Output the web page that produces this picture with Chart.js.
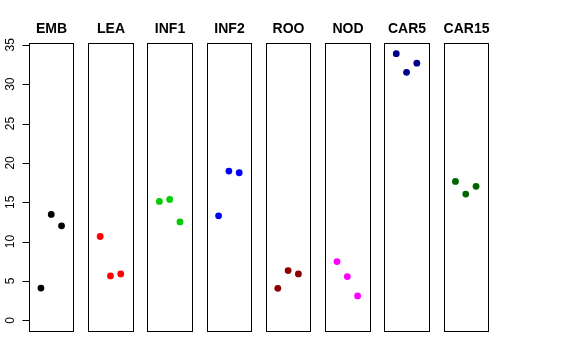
<!DOCTYPE html>
<html>
<head>
<meta charset="utf-8">
<script src="https://cdn.jsdelivr.net/npm/chart.js@4/dist/chart.umd.min.js"></script>
<style>
  html, body { margin: 0; padding: 0; background: #ffffff; }
  #c { display: block; }
</style>
</head>
<body>
<canvas id="c" width="576" height="360"></canvas>
<script>
// ---- Data ----
const categories = ['EMB', 'LEA', 'INF1', 'INF2', 'ROO', 'NOD', 'CAR5', 'CAR15'];
const EMB   = [4.1, 13.45, 12.0];
const LEA   = [10.65, 5.64, 5.9];
const INF1  = [15.1, 15.36, 12.5];
const INF2  = [13.28, 18.96, 18.75];
const ROO   = [4.07, 6.32, 5.9];
const NOD   = [7.47, 5.56, 3.1];
const CAR5  = [33.87, 31.5, 32.67];
const CAR15 = [17.65, 16.04, 17.02];
const seriesValues = [EMB, LEA, INF1, INF2, ROO, NOD, CAR5, CAR15];
const colors = ['#000000', '#FF0000', '#00CD00', '#0000FF', '#8B0000', '#FF00FF', '#00008B', '#006400'];
const yTicks = [0, 5, 10, 15, 20, 25, 30, 35];

// ---- Layout of panels in x units (each panel: xlim 0..4 with 4% extension) ----
const STEP = 5.75;
const PAD = 0.16;
const PANEL_MAX = 4 + PAD;

const datasets = categories.map((name, i) => ({
  label: name,
  data: seriesValues[i].map((v, j) => ({ x: i * STEP + j + 1, y: v })),
  backgroundColor: colors[i],
  borderColor: colors[i],
  borderWidth: 0,
  pointRadius: 3.4,
  pointHoverRadius: 3.4
}));

const FONT = '"Liberation Sans", Arial, Helvetica, sans-serif';

const panelsPlugin = {
  id: 'panels',
  beforeDatasetsDraw(chart) {
    const { ctx, chartArea, scales } = chart;
    const xs = scales.x, ys = scales.y;
    ctx.save();
    ctx.strokeStyle = '#000000';
    ctx.lineWidth = 1;
    categories.forEach((name, i) => {
      const x0 = Math.round(xs.getPixelForValue(i * STEP - PAD)) + 0.5;
      const x1 = Math.round(xs.getPixelForValue(i * STEP + PANEL_MAX)) + 0.5;
      const y0 = Math.round(chartArea.top) + 0.5;
      const y1 = Math.round(chartArea.bottom) + 0.5;
      ctx.strokeRect(x0, y0, x1 - x0, y1 - y0);
      ctx.fillStyle = '#000000';
      ctx.font = 'bold 14px ' + FONT;
      ctx.textAlign = 'center';
      ctx.textBaseline = 'alphabetic';
      ctx.fillText(name, (x0 + x1) / 2, chartArea.top - 10);
    });
    // y axis (R style) on left edge of first panel
    const ax = Math.round(xs.getPixelForValue(-PAD)) + 0.5;
    const yTop = Math.round(ys.getPixelForValue(yTicks[yTicks.length - 1])) + 0.5;
    const yBot = Math.round(ys.getPixelForValue(yTicks[0])) + 0.5;
    ctx.beginPath();
    ctx.moveTo(ax, yTop);
    ctx.lineTo(ax, yBot);
    yTicks.forEach(t => {
      const py = Math.round(ys.getPixelForValue(t)) + 0.5;
      ctx.moveTo(ax - 7, py);
      ctx.lineTo(ax, py);
    });
    ctx.stroke();
    ctx.font = '12px ' + FONT;
    ctx.fillStyle = '#000000';
    ctx.textAlign = 'center';
    ctx.textBaseline = 'middle';
    yTicks.forEach(t => {
      const py = ys.getPixelForValue(t);
      ctx.save();
      ctx.translate(ax - 19, py);
      ctx.rotate(-Math.PI / 2);
      ctx.fillText(String(t), 0, 0);
      ctx.restore();
    });
    ctx.restore();
  }
};

new Chart(document.getElementById('c'), {
  type: 'scatter',
  data: { datasets },
  options: {
    responsive: false,
    animation: false,
    devicePixelRatio: 1,
    layout: { padding: { left: 29, right: 88, top: 43, bottom: 29 } },
    plugins: { legend: { display: false }, tooltip: { enabled: false }, title: { display: false } },
    scales: {
      x: { type: 'linear', display: false, min: -PAD, max: (categories.length - 1) * STEP + PANEL_MAX },
      y: { type: 'linear', display: false, min: -1.355, max: 35.23 }
    }
  },
  plugins: [panelsPlugin]
});
</script>
</body>
</html>
